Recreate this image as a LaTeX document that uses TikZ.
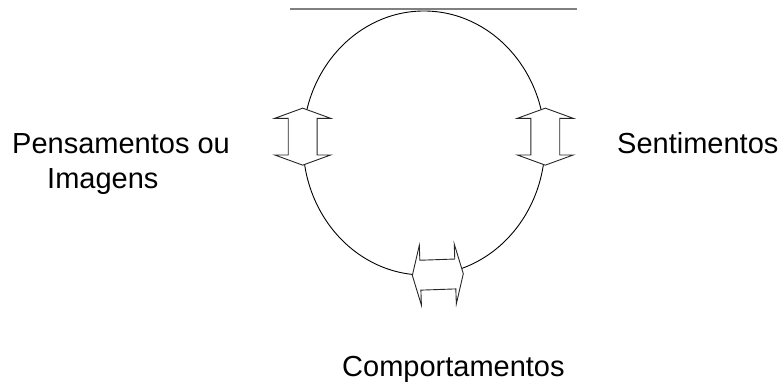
\documentclass[tikz,border=0pt]{standalone}
\usepackage{fontspec}
\setmainfont{Liberation Sans}
\usetikzlibrary{shapes.geometric,shapes.arrows}
\begin{document}
\begin{tikzpicture}[x=1pt,y=1pt,
  every node/.style={inner sep=0pt},
  label/.style={font=\fontsize{29}{35}\selectfont,anchor=base west},
  cyclearrow/.style={double arrow,draw=black!85,fill=white,line width=0.9pt,
    inner xsep=0pt,inner ysep=14pt,minimum height=57pt,
    double arrow head extend=13.5pt,double arrow tip angle=140}]
  \useasboundingbox (0,0) rectangle (784,389);
  \coordinate (l) at (290,380);
  \coordinate (r) at (577,380);
  \draw[gray,line width=1.6pt] (l)--(r);
  \node[ellipse,draw,line width=0.9pt,minimum width=242pt,minimum height=264pt]
    (ring) at (424,246) {};
  \node[cyclearrow,rotate=90] (ta) at (ring.177) {};
  \node[cyclearrow,rotate=90] (sa) at (ring.3) {};
  \node[cyclearrow,rotate=2,minimum height=51pt,inner ysep=14.5pt,
    double arrow head extend=15pt,double arrow tip angle=150] (ca) at (ring.-84) {};
  \node[label] (t1) at (12,236) {Pensamentos ou};
  \node[label] (t2) at (47,201) {Imagens};
  \node[label] (s) at (617,236) {Sentimentos};
  \node[label] (c) at (342,13) {Comportamentos};
\end{tikzpicture}
\end{document}
